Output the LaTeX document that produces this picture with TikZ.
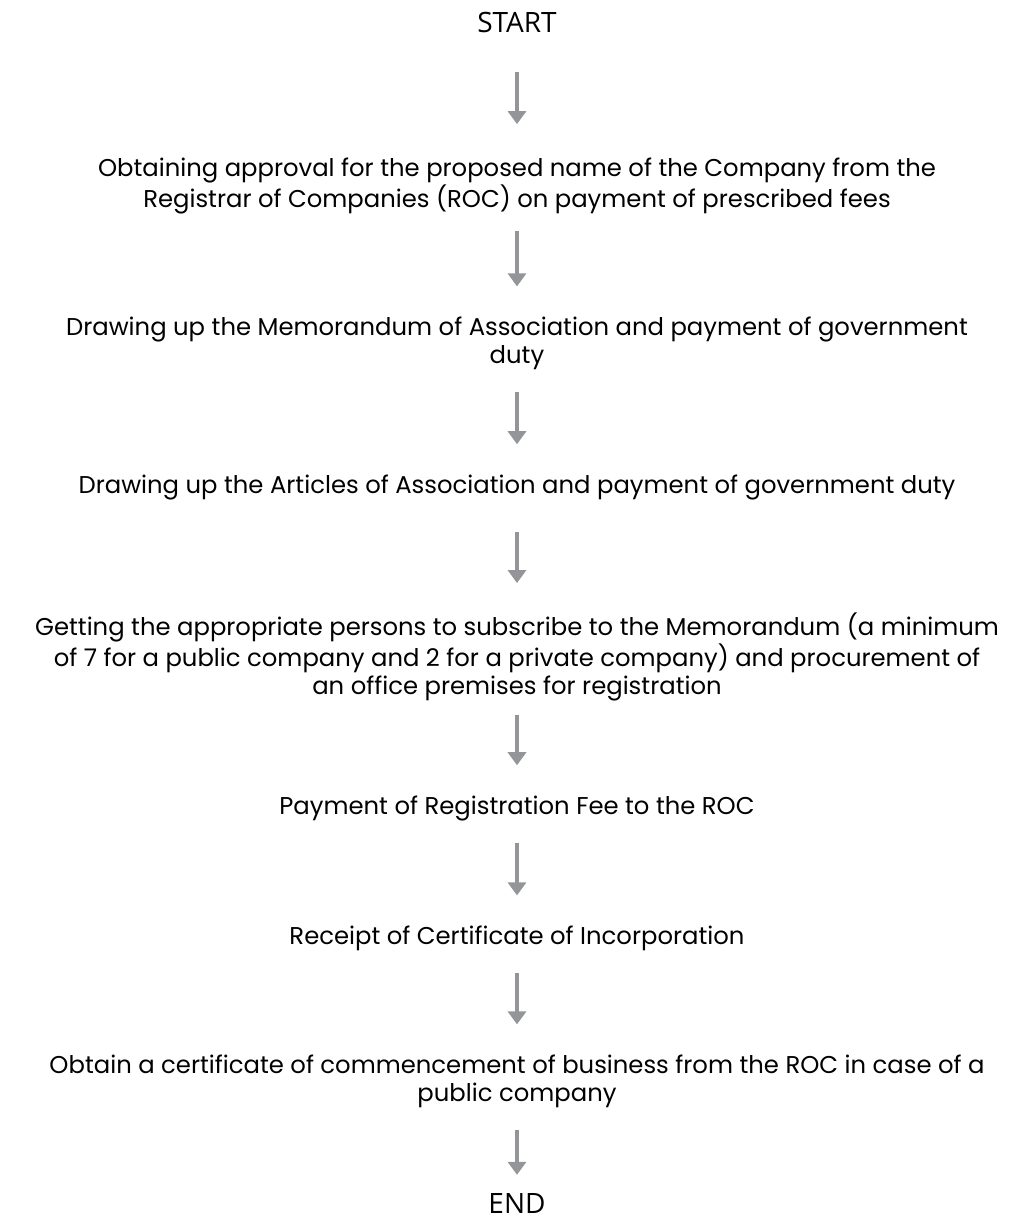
\documentclass[tikz,border=0pt]{standalone}
\usepackage{fontspec}
\setmainfont{Poppins}
\newfontfamily\termfont{Open Sans}
\usetikzlibrary{arrows.meta}
\definecolor{arrowgray}{RGB}{147,149,152}

\begin{document}
\begin{tikzpicture}[x=1pt,y=-1pt,
  every node/.style = {align=center, inner sep=0pt,
    font=\fontsize{24.3}{28}\selectfont},
  terminal/.style = {font=\termfont\fontsize{28}{30}\selectfont},
  flow/.style = {draw=arrowgray, line width=4pt,
    -{Triangle[width=18pt,length=13pt]},
    shorten <=22pt, shorten >=30pt}
  ]
  \useasboundingbox (0,0) rectangle (1031,1219);
  \node[terminal] (start) at (517,22) {START};
  \node (name) at (517,186) {Obtaining approval for the proposed name of the Company from the\\
    Registrar of Companies (ROC) on payment of prescribed fees};
  \node (memo) at (517,343) {Drawing up the Memorandum of Association and payment of government\\ duty};
  \node (articles) at (517,487) {Drawing up the Articles of Association and payment of government duty};
  \node (subscribe) at (517,657) {Getting the appropriate persons to subscribe to the Memorandum (a minimum\\
    of 7 for a public company and 2 for a private company) and procurement of\\
    an office premises for registration};
  \node (fee) at (517,808) {Payment of Registration Fee to the ROC};
  \node (receipt) at (517,938) {Receipt of Certificate of Incorporation};
  \node (commence) at (517,1081) {Obtain a certificate of commencement of business from the ROC in case of a\\
    public company};
  \node[terminal] (end) at (517,1203) {END};

  % arrows between the steps
  \draw[flow, shorten <=40pt, shorten >=34pt] (start) -- (name);
  \draw[flow, shorten <=17pt] (name) -- (memo);
  \draw[flow] (memo) -- (articles);
  \draw[flow, shorten <=32pt] (articles) -- (subscribe);
  \draw[flow, shorten <=14pt] (subscribe) -- (fee);
  \draw[flow] (fee) -- (receipt);
  \draw[flow] (receipt) -- (commence);
  \draw[flow, shorten >=18pt] (commence) -- (end);
\end{tikzpicture}
\end{document}
